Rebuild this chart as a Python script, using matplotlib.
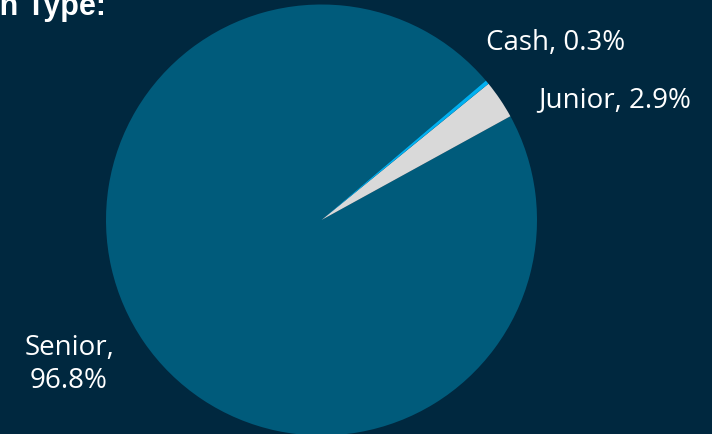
import matplotlib
matplotlib.use("Agg")
from matplotlib import pyplot as plt

# position type breakdown
labels = ["Senior", "Junior", "Cash"]
shares = [96.8, 2.9, 0.3]
colors = ["#005B7B", "#D9D9D9", "#00B0F0"]
title = "Position Type:"

bg = "#00283F"
W, H = 712, 434

fig = plt.figure(figsize=(W / 100, H / 100), dpi=100, facecolor=bg)
ax = fig.add_axes([0, 0, 1, 1])
ax.set_facecolor(bg)

ax.pie(shares, colors=colors, startangle=40.3, counterclock=True,
       radius=215.5, center=(321.5, H - 220),
       wedgeprops=dict(linewidth=0), frame=True)

ax.set_xlim(0, W)
ax.set_ylim(0, H)
ax.set_aspect("equal")
ax.axis("off")

lab_font = dict(color="white", fontsize=20, family="Open Sans")
ax.text(556, H - 50, "%s, %.1f%%" % (labels[2], shares[2]), ha="center", va="baseline", **lab_font)
ax.text(615, H - 107, "%s, %.1f%%" % (labels[1], shares[1]), ha="center", va="baseline", **lab_font)
ax.text(69, H - 388, "%s,\n%.1f%%" % (labels[0], shares[0]), ha="center", va="baseline",
        multialignment="center", linespacing=1.25, **lab_font)

# title runs off the left/top edge, as in the reference
ax.text(106, H - 15, title, ha="right", va="baseline", color="white",
        fontsize=22, fontweight="bold", family="Liberation Sans")

fig.savefig("out.png", dpi=100, facecolor=bg)
